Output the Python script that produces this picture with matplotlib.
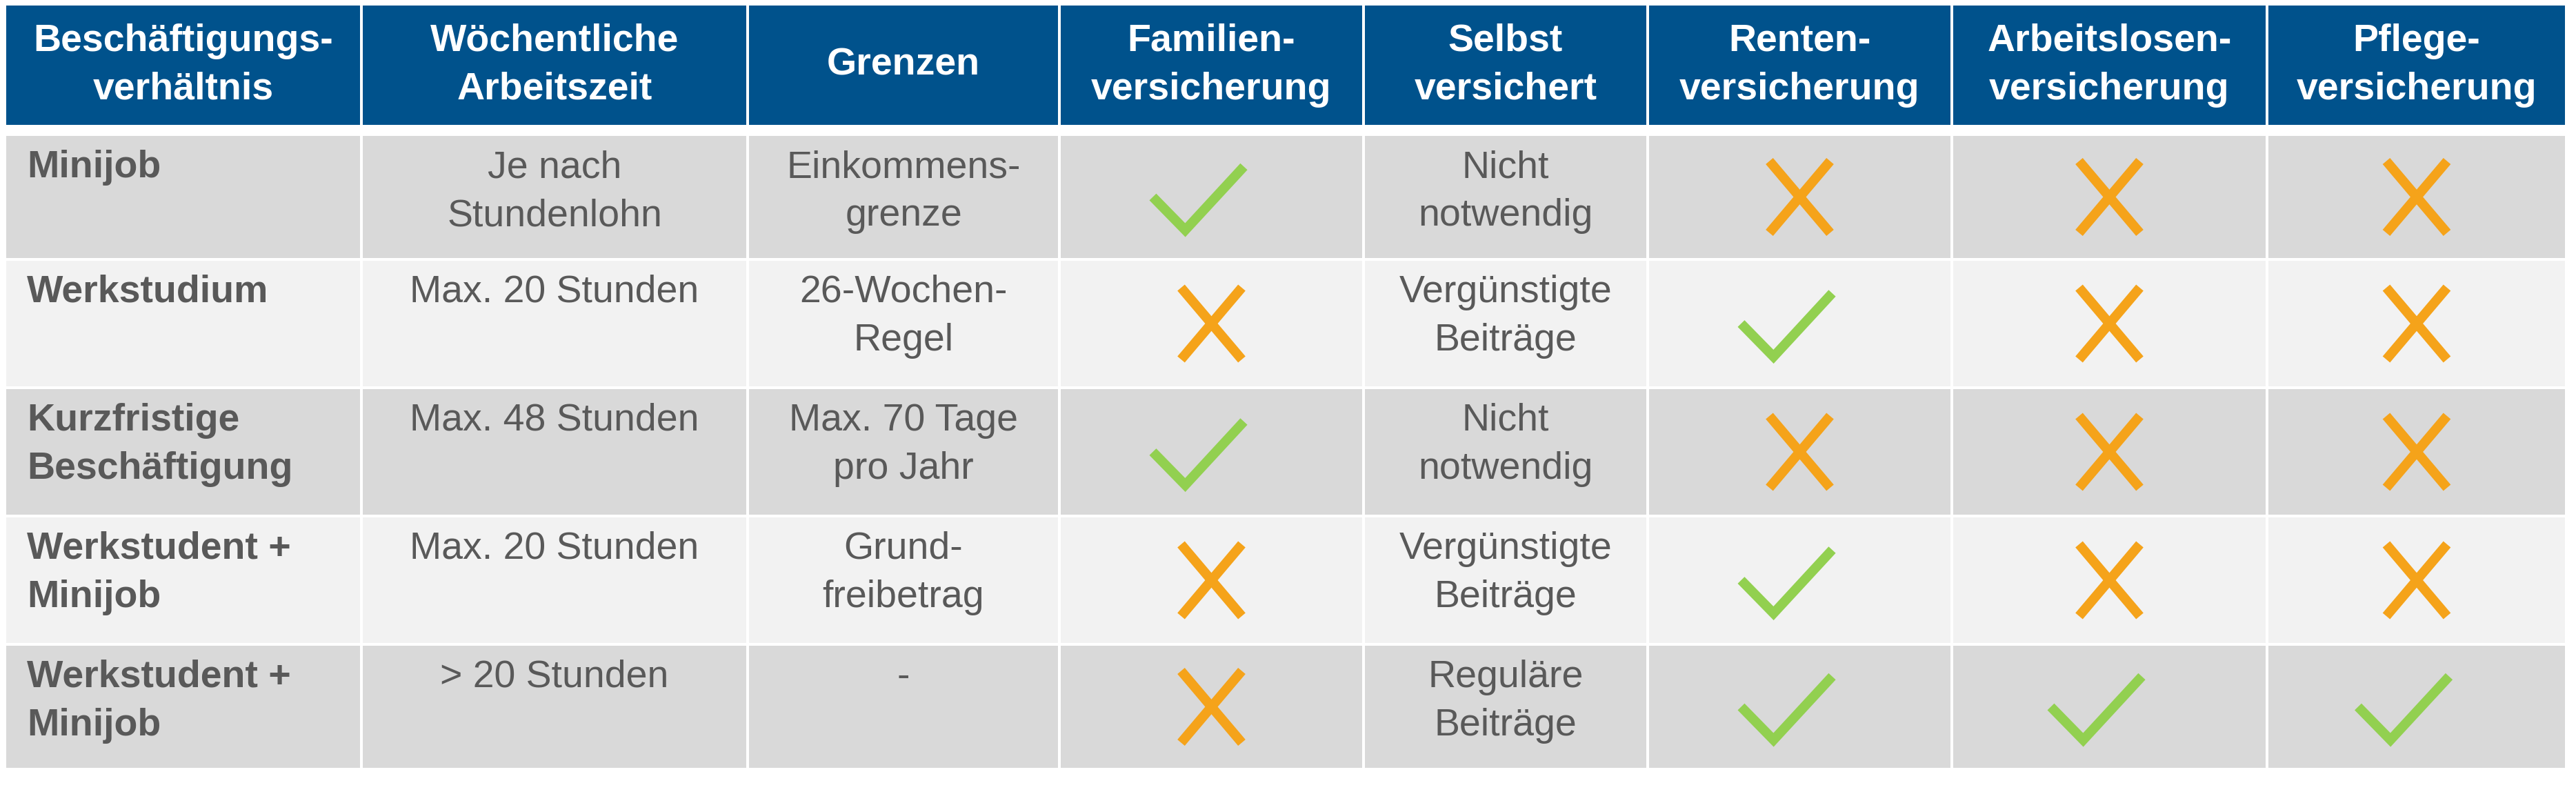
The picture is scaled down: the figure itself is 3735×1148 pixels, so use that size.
import matplotlib
matplotlib.use("Agg")
import matplotlib.pyplot as plt
from matplotlib.patches import Rectangle
from matplotlib import font_manager

# --- Daten ---
headers = ["Beschäftigungs-\nverhältnis", "Wöchentliche\nArbeitszeit", "Grenzen",
           "Familien-\nversicherung", "Selbst\nversichert", "Renten-\nversicherung",
           "Arbeitslosen-\nversicherung", "Pflege-\nversicherung"]
row_labels = ["Minijob", "Werkstudium", "Kurzfristige\nBeschäftigung",
              "Werkstudent +\nMinijob", "Werkstudent +\nMinijob"]
arbeitszeit = ["Je nach\nStundenlohn", "Max. 20 Stunden", "Max. 48 Stunden",
               "Max. 20 Stunden", "> 20 Stunden"]
grenzen = ["Einkommens-\ngrenze", "26-Wochen-\nRegel", "Max. 70 Tage\npro Jahr",
           "Grund-\nfreibetrag", "-"]
familien = [True, False, True, False, False]
selbst = ["Nicht\nnotwendig", "Vergünstigte\nBeiträge", "Nicht\nnotwendig",
          "Vergünstigte\nBeiträge", "Reguläre\nBeiträge"]
rente = [False, True, False, True, True]
arbeitslos = [False, False, False, False, True]
pflege = [False, False, False, False, True]

# --- Layout (Pixel) ---
W, H = 3735, 1148
col_edges = [7, 524, 1084, 1536, 1977, 2389, 2830, 3287, 3721]
head_top, head_bot = 6, 183
row_edges = [195, 376, 562, 748, 934, 1115]
gap = 4

BLUE = "#00528C"
ROW_BG = ["#D9D9D9", "#F2F2F2"]
TXT = "#595959"
GREEN = "#92D050"
ORANGE = "#F5A31A"

names = {f.name for f in font_manager.fontManager.ttflist}
family = "Liberation Sans Narrow" if "Liberation Sans Narrow" in names else "Liberation Sans"

fig = plt.figure(figsize=(W / 100, H / 100), dpi=100)
ax = fig.add_axes([0, 0, 1, 1])
ax.set_xlim(0, W)
ax.set_ylim(H, 0)
ax.axis("off")

fs = 40
ls = 1.45


def cell(x0, x1, y0, y1, color):
    ax.add_patch(Rectangle((x0 + gap / 2, y0 + gap / 2), x1 - x0 - gap, y1 - y0 - gap,
                           facecolor=color, edgecolor="none"))


def mark(cx, cy, ok):
    if ok:
        ax.plot([cx - 85, cx - 38, cx + 47], [cy, cy + 48, cy - 44], color=GREEN,
                lw=10, solid_capstyle="butt", solid_joinstyle="miter")
    else:
        ax.plot([cx - 44, cx + 44], [cy - 52, cy + 52], color=ORANGE, lw=10, solid_capstyle="butt")
        ax.plot([cx - 44, cx + 44], [cy + 52, cy - 52], color=ORANGE, lw=10, solid_capstyle="butt")


# Kopfzeile
for j, h in enumerate(headers):
    x0, x1 = col_edges[j], col_edges[j + 1]
    cell(x0, x1, head_top, head_bot, BLUE)
    ax.text((x0 + x1) / 2, (head_top + head_bot) / 2, h, ha="center", va="center",
            color="white", fontsize=fs, fontweight="bold", family=family, linespacing=ls)

# Zeilen
for i in range(len(row_labels)):
    y0, y1 = row_edges[i], row_edges[i + 1]
    cy = (y0 + y1) / 2
    for j in range(len(headers)):
        cell(col_edges[j], col_edges[j + 1], y0, y1, ROW_BG[i % 2])
    ty = y0 + 22
    cx = [(col_edges[j] + col_edges[j + 1]) / 2 for j in range(len(headers))]
    ax.text(col_edges[0] + 32, ty, row_labels[i], ha="left", va="top", color=TXT,
            fontsize=fs, fontweight="bold", family=family, linespacing=ls)
    ax.text(cx[1], ty, arbeitszeit[i], ha="center", va="top", color=TXT,
            fontsize=fs, family=family, linespacing=ls)
    ax.text(cx[2], ty, grenzen[i], ha="center", va="top", color=TXT,
            fontsize=fs, family=family, linespacing=ls)
    ax.text(cx[4], ty, selbst[i], ha="center", va="top", color=TXT,
            fontsize=fs, family=family, linespacing=ls)
    mark(cx[3], cy, familien[i])
    mark(cx[5], cy, rente[i])
    mark(cx[6], cy, arbeitslos[i])
    mark(cx[7], cy, pflege[i])

fig.savefig("out.png", dpi=100, facecolor="white")
